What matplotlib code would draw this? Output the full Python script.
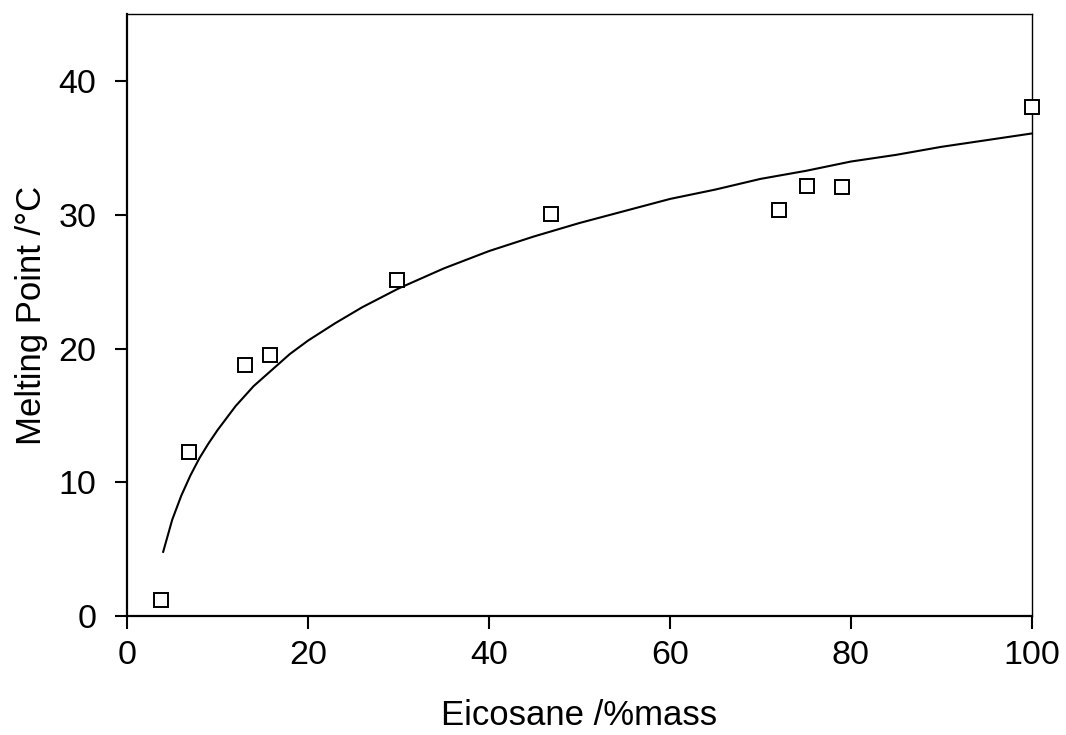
import matplotlib
matplotlib.use("Agg")
import matplotlib.pyplot as plt

plt.rcParams['font.family'] = ['Liberation Sans', 'DejaVu Sans']

# measured melting points of the mixtures
eicosane = [3.8, 6.9, 13.0, 15.8, 29.8, 46.9, 72.0, 75.1, 79.0, 100.0]
melting = [1.2, 12.3, 18.8, 19.5, 25.1, 30.1, 30.4, 32.2, 32.1, 38.1]

# fitted trend line
fit_x = [4, 5, 6, 7, 8, 9, 10, 12, 14, 16, 18, 20, 23, 26, 30, 35, 40, 45,
         50, 55, 60, 65, 70, 75, 80, 85, 90, 95, 100]
fit_y = [4.8, 7.2, 9.0, 10.5, 11.8, 12.9, 13.9, 15.7, 17.2, 18.4, 19.6, 20.6,
         21.9, 23.1, 24.5, 26.0, 27.3, 28.4, 29.4, 30.3, 31.2, 31.9, 32.7,
         33.3, 34.0, 34.5, 35.1, 35.6, 36.1]

xticks = [0, 20, 40, 60, 80, 100]
yticks = [0, 10, 20, 30, 40]

fig = plt.figure(figsize=(10.66, 7.35), dpi=100)
ax = fig.add_axes([0.1191, 0.1619, 0.8490, 0.8184])

ax.plot(fit_x, fit_y, color='black', lw=1.5, clip_on=False, zorder=2)
ax.plot(eicosane, melting, ls='none', marker='s', ms=10, mfc='white',
        mec='black', mew=1.4, clip_on=False, zorder=3)

ax.set_xlim(0, 100)
ax.set_ylim(0, 45)
ax.set_xticks(xticks)
ax.set_yticks(yticks)
ax.tick_params(direction='out', length=9, width=1.5, labelsize=24.5,
               color='black')
ax.tick_params(axis='x', pad=8)
ax.tick_params(axis='y', pad=13)

for side in ['left', 'bottom']:
    ax.spines[side].set_linewidth(1.6)
for side in ['top', 'right']:
    ax.spines[side].set_linewidth(1.0)

ax.set_xlabel('Eicosane /%mass', fontsize=25)
ax.set_ylabel('Melting Point /°C', fontsize=25)
ax.xaxis.set_label_coords(0.5, -0.138)
ax.yaxis.set_label_coords(-0.087, 0.5)

fig.savefig('out.png', dpi=100)
